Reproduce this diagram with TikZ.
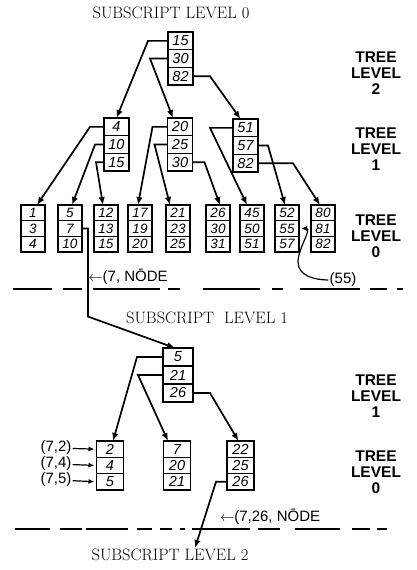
\documentclass[tikz,border=0pt]{standalone}
\usepackage{fontspec}
\newfontfamily\handfont{Liberation Sans}
\usetikzlibrary{arrows.meta,positioning}

% one index block = three stacked key cells
\newcommand{\keybox}[6]{%
  \node[#2,anchor=north] (#1a) at (#3) {#4};
  \node[#2,below=0pt of #1a] (#1b) {#5};
  \node[#2,below=0pt of #1b] (#1c) {#6};}

\begin{document}
\begin{tikzpicture}[
x=1pt,
y=-1pt,
cellhi/.style={rectangle,draw,line width=1.4pt,outer sep=0pt,inner sep=0pt,minimum width=25pt,minimum height=17.7pt,font=\handfont\itshape\fontsize{14.5}{14}\selectfont},
celllo/.style={cellhi,minimum width=24pt,minimum height=15.7pt,font=\handfont\itshape\fontsize{13.5}{13}\selectfont},
cellmid/.style={cellhi,minimum width=30pt,minimum height=18pt},
cellsm/.style={cellhi,minimum width=27pt,minimum height=16.3pt},
treearr/.style={-{Latex[length=8pt,width=6.5pt]},line width=1.7pt},
keyarr/.style={-{Latex[length=6pt,width=5pt]},line width=1.2pt,shorten >=2pt},
levellbl/.style={align=center,inner sep=0pt,font=\handfont\bfseries\fontsize{15.5}{16}\selectfont},
sublbl/.style={inner sep=1pt,font=\fontsize{16.5}{16}\selectfont},
keylbl/.style={inner sep=1pt,font=\handfont\fontsize{15}{15}\selectfont},
cutline/.style={line width=1.5pt}
]
\useasboundingbox (0,0) rectangle (416,570);

\node[sublbl] (sub0) at (171,13) {SUBSCRIPT LEVEL 0};
\node[sublbl] (sub1) at (207,318) {SUBSCRIPT\ \ LEVEL 1};
\node[sublbl] (sub2) at (170,555) {SUBSCRIPT LEVEL 2};

\node[levellbl] (tl2) at (376,73) {TREE\\LEVEL\\2};
\node[levellbl] (tl1) at (376,149) {TREE\\LEVEL\\1};
\node[levellbl] (tl0) at (376,236) {TREE\\LEVEL\\0};
\node[levellbl] (ul1) at (376,396) {TREE\\LEVEL\\1};
\node[levellbl] (ul0) at (376,472) {TREE\\LEVEL\\0};

% subscript level 0
\keybox{r}{cellhi}{180.5,32}{15}{30}{82}
\keybox{a}{cellhi}{116.5,118}{4}{10}{15}
\keybox{b}{cellhi}{180,118}{20}{25}{30}
\keybox{c}{cellhi}{245.5,119}{51}{57}{82}
\keybox{n1}{celllo}{33,205}{1}{3}{4}
\keybox{n5}{celllo}{70,205}{5}{7}{10}
\keybox{n12}{celllo}{106,205}{12}{13}{15}
\keybox{n17}{celllo}{140,205}{17}{19}{20}
\keybox{n21}{celllo}{178,205}{21}{23}{25}
\keybox{n26}{celllo}{218,205}{26}{30}{31}
\keybox{n45}{celllo}{252,205}{45}{50}{51}
\keybox{n52}{celllo}{287,205}{52}{55}{57}
\keybox{n80}{celllo}{323,205}{80}{81}{82}

% subscript level 1
\keybox{s5}{cellmid}{178,348}{5}{21}{26}
\keybox{s2}{cellsm}{110,441}{2}{4}{5}
\keybox{s7}{cellsm}{177,441}{7}{20}{21}
\keybox{s22}{cellsm}{240.5,441}{22}{25}{26}

\node[keylbl] (k72) at (56,448) {(7,2)};
\node[keylbl] (k74) at (56,464) {(7,4)};
\node[keylbl] (k75) at (56,480) {(7,5)};
\node[keylbl] (nd7) at (128,277) {$\leftarrow$(7, N\=ODE};
\node[keylbl] (nd26) at (270,517) {$\leftarrow$(7,26, N\=ODE};
\node[keylbl] (l55) at (343,280) {(55)};
\coordinate (hk55) at (298,262);

\draw[cutline,dash pattern=on 39pt off 11pt on 19pt off 11pt on 67pt off 8pt on 12pt off 23pt on 57pt off 12pt on 11pt off 17pt on 60pt off 10pt on 17pt off 10pt on 6pt] (13,289) -- (405,289);
\draw[cutline,dash pattern=on 35pt off 10pt on 22pt off 4pt on 42pt off 9pt on 15pt off 8pt on 12pt off 8pt on 5pt off 7pt on 58pt off 8pt on 22pt off 15pt on 45pt off 12pt on 18pt off 7pt on 10pt] (15,529) -- (405,529);

\draw[treearr] (ra.west) -- ++(-20,0) -- (aa.north);
\draw[treearr] (rb.west) -- ++(-18,0) -- ([xshift=-7pt]ba.north);
\draw[treearr] (rc.east) -- ++(17,0) -- ([xshift=-5pt]ca.north);

\draw[treearr] (aa.west) -- ++(-14,0) -- ([xshift=4pt]n1a.north);
\draw[treearr] (ab.west) -- ++(-9,0) -- ([xshift=2pt]n5a.north);
\draw[treearr] (ac.west) -- ++(-8,0) -- ([xshift=-3pt]n12a.north);
\draw[treearr] (ba.west) -- ++(-15,0) -- ([xshift=-2pt]n17a.north);
\draw[treearr] (bb.west) -- ++(-13,0) -- ([xshift=-8pt]n21a.north);
\draw[treearr] (bc.east) -- ++(12,0) -- ([xshift=2pt]n26a.north);
\draw[treearr] (ca.west) -- ++(-23,0) -- ([xshift=-5pt]n45a.north);
\draw[treearr] (cb.east) -- ++(10,0) -- ([xshift=-2pt]n52a.north);
\draw[treearr] (cc.east) -- ++(35,0) -- ([xshift=-3pt]n80a.north);

\draw[treearr] (n5b.east) -- ++(6,0) -- ++(0,88) -- ([xshift=-3pt]s5a.north);
\draw[keyarr] (l55.west) to[out=180,in=-90] (hk55) to[out=90,in=0] (n52b.east);

\draw[treearr] (s5a.west) -- ++(-26,0) -- ([xshift=3pt]s2a.north);
\draw[treearr] (s5b.west) -- ++(-25,0) -- ([xshift=-9pt]s7a.north);
\draw[treearr] (s5c.east) -- ++(17,0) -- ([xshift=-2pt]s22a.north);
\draw[treearr] (s22c.west) -- ++(-11,0) -- ([xshift=25pt]sub2.north);

\draw[keyarr] (k72) -- (s2a.west);
\draw[keyarr] (k74) -- (s2b.west);
\draw[keyarr] (k75) -- (s2c.west);
\end{tikzpicture}
\end{document}
